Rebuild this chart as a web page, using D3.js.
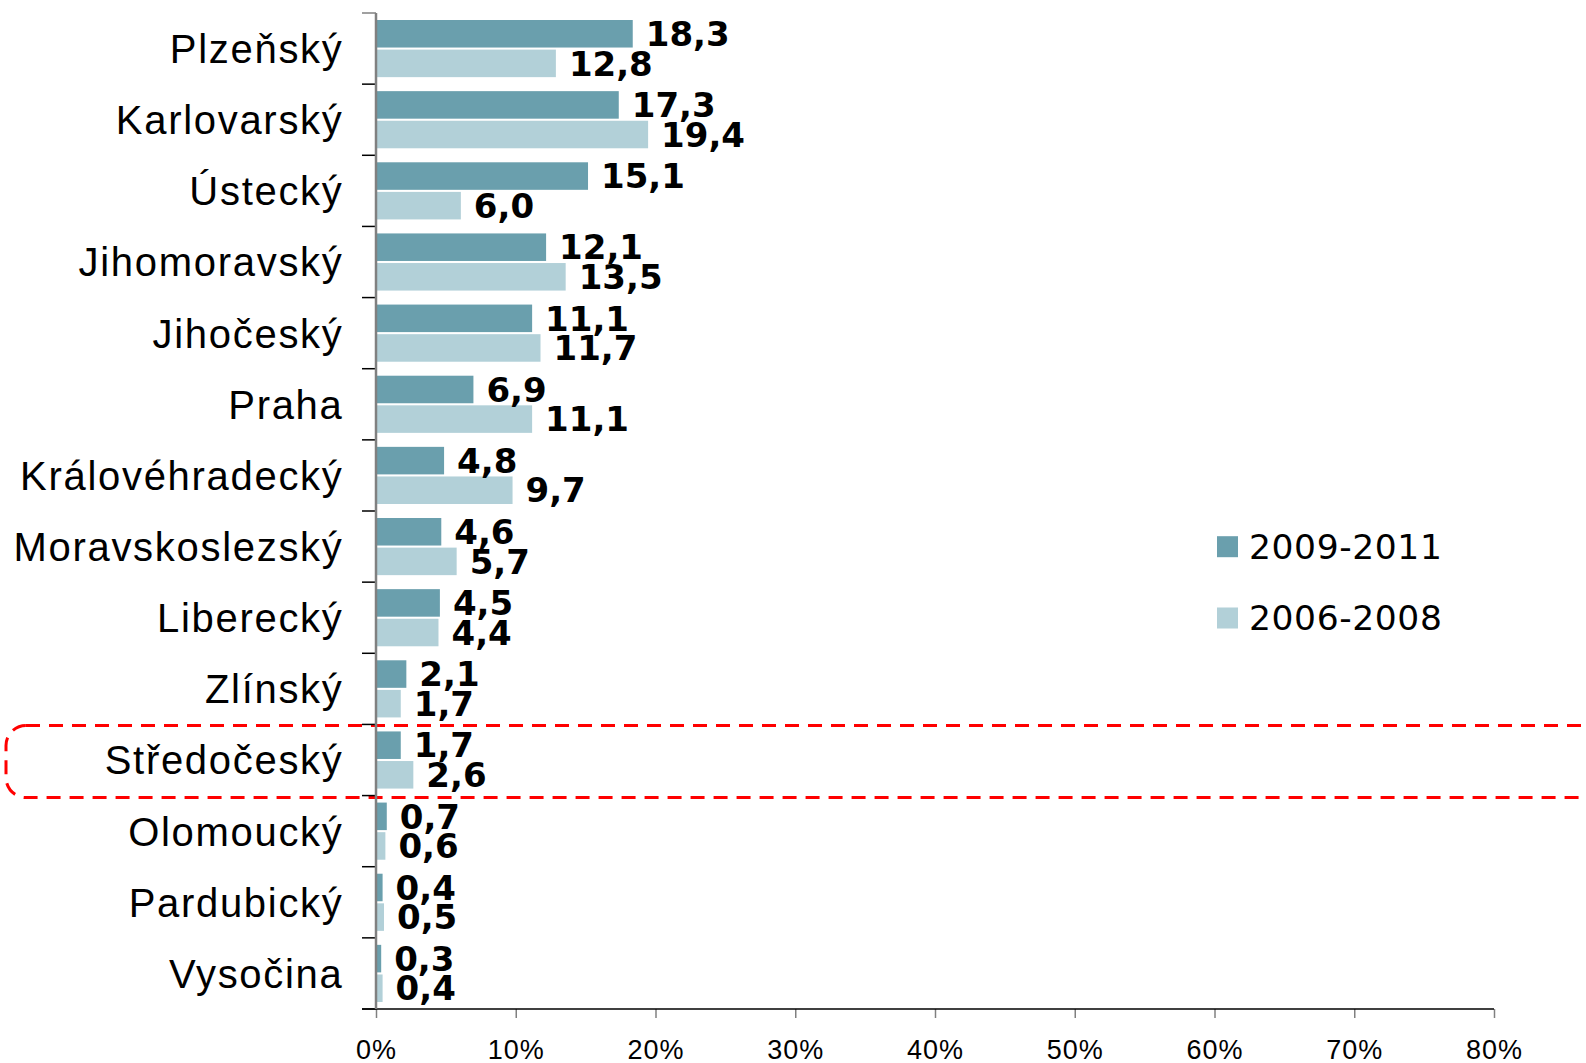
<!DOCTYPE html>
<html>
<head>
<meta charset="utf-8">
<script src="https://cdn.jsdelivr.net/npm/d3@7"></script>
<style>
  body { margin: 0; background: #fff; }
  svg { display: block; font-family: "DejaVu Sans", Verdana, sans-serif; }
</style>
</head>
<body>
<svg id="chart" width="1586" height="1063"></svg>
<script>
// ===== DATA =====
const kraje = ["Plzeňský", "Karlovarský", "Ústecký", "Jihomoravský", "Jihočeský", "Praha",
  "Královéhradecký", "Moravskoslezský", "Liberecký", "Zlínský", "Středočeský",
  "Olomoucký", "Pardubický", "Vysočina"];
const obdobi = ["2009-2011", "2006-2008"];
const hodnoty2009 = [18.3, 17.3, 15.1, 12.1, 11.1, 6.9, 4.8, 4.6, 4.5, 2.1, 1.7, 0.7, 0.4, 0.3];
const hodnoty2006 = [12.8, 19.4, 6.0, 13.5, 11.7, 11.1, 9.7, 5.7, 4.4, 1.7, 2.6, 0.6, 0.5, 0.4];
const osaX = [0, 10, 20, 30, 40, 50, 60, 70, 80];
const zvyraznit = "Středočeský";

const barvy = { "2009-2011": "#6a9fad", "2006-2008": "#b2d0d8" };

// ===== SCALES =====
const svg = d3.select("#chart");
const x = d3.scaleLinear().domain([0, 80]).range([376, 1494]);
const y = d3.scaleBand().domain(kraje).range([13, 1009]);
const ySub = d3.scaleBand().domain(obdobi).range([7, y.bandwidth() - 7]).paddingInner(0.07);

const radky = kraje.map((k, i) => ({ kraj: k, "2009-2011": hodnoty2009[i], "2006-2008": hodnoty2006[i] }));
const cislo = v => d3.format(".1f")(v).replace(".", ",");

// ===== ZVYRAZNENI =====
svg.append("rect")
  .attr("x", 6)
  .attr("y", y(zvyraznit) + 1)
  .attr("width", 1597)
  .attr("height", y.bandwidth() + 1)
  .attr("rx", 20)
  .attr("fill", "none")
  .attr("stroke", "#ff0000")
  .attr("stroke-width", 3)
  .attr("stroke-dasharray", "14,9");

// ===== BARS =====
const skupiny = svg.selectAll("g.kraj")
  .data(radky)
  .enter()
  .append("g")
  .attr("class", "kraj")
  .attr("transform", d => `translate(0,${y(d.kraj)})`);

skupiny.selectAll("rect")
  .data(d => obdobi.map(o => ({ o, v: d[o] })))
  .enter()
  .append("rect")
  .attr("x", x(0) + 1)
  .attr("y", d => ySub(d.o))
  .attr("width", d => x(d.v) - x(0))
  .attr("height", ySub.bandwidth())
  .attr("fill", d => barvy[d.o]);

skupiny.selectAll("text")
  .data(d => obdobi.map(o => ({ o, v: d[o] })))
  .enter()
  .append("text")
  .attr("x", d => x(d.v) + 14)
  .attr("y", d => ySub(d.o) + ySub.bandwidth() / 2)
  .attr("dy", "0.36em")
  .attr("font-size", 34)
  .attr("font-weight", "bold")
  .attr("fill", "#000")
  .text(d => cislo(d.v));

// ===== OSY =====
const osaY = svg.append("g")
  .attr("transform", `translate(${x(0)},0)`)
  .call(d3.axisLeft(y).tickSize(0).tickPadding(32.5));
osaY.select(".domain").remove();
osaY.selectAll("text")
  .attr("font-size", 40)
  .attr("letter-spacing", 1.7)
  .attr("fill", "#000")
  .attr("dy", "0.36em");

// tick marks at category boundaries
const hranice = kraje.map(k => y(k)).concat([y.range()[1]]);
svg.selectAll("line.hranice")
  .data(hranice)
  .enter()
  .append("line")
  .attr("class", "hranice")
  .attr("x1", x(0) - 14)
  .attr("x2", x(0))
  .attr("y1", d => d)
  .attr("y2", d => d)
  .attr("stroke", (d, i) => i === 0 ? "#808080" : "#000")
  .attr("stroke-width", 1.5);

const osaXg = svg.append("g")
  .attr("transform", `translate(0,${y.range()[1]})`)
  .call(d3.axisBottom(x).tickValues(osaX).tickFormat(d => d + "%").tickSize(9).tickPadding(22));
osaXg.select(".domain").remove();
osaXg.selectAll("line").attr("stroke", "#808080").attr("stroke-width", 1.5);
osaXg.selectAll("text").attr("font-size", 27).attr("letter-spacing", 1).attr("fill", "#000");

svg.append("line")
  .attr("x1", x(0) - 14).attr("x2", x(80))
  .attr("y1", y.range()[1]).attr("y2", y.range()[1])
  .attr("stroke", "#000").attr("stroke-width", 1.5);

svg.append("line")
  .attr("x1", x(0)).attr("x2", x(0))
  .attr("y1", y.range()[0]).attr("y2", y.range()[1])
  .attr("stroke", "#808080").attr("stroke-width", 2.5);

// ===== LEGENDA =====
const legenda = svg.selectAll("g.legenda")
  .data(obdobi)
  .enter()
  .append("g")
  .attr("class", "legenda")
  .attr("transform", (d, i) => `translate(1217,${546.7 + i * 71.3})`);

legenda.append("rect")
  .attr("x", 0).attr("y", -10.5)
  .attr("width", 21).attr("height", 21)
  .attr("fill", d => barvy[d]);

legenda.append("text")
  .attr("x", 32)
  .attr("dy", "0.36em")
  .attr("font-size", 34.5)
  .attr("letter-spacing", 0.6)
  .attr("fill", "#000")
  .text(d => d);
</script>
</body>
</html>
